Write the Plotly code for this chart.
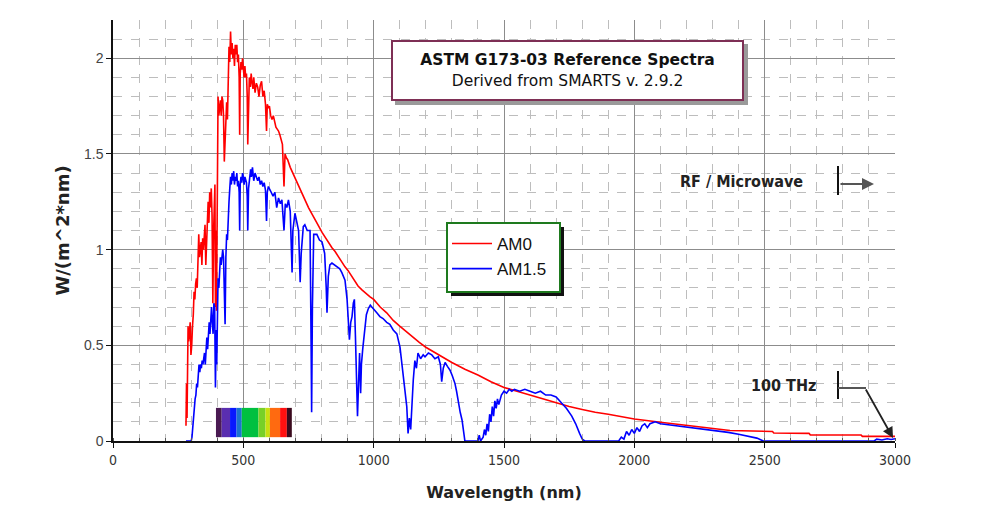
import plotly.graph_objects as go

# ---------------- data ----------------
am0_wl = [280, 282, 284, 286, 288, 290, 293, 296, 299, 302, 305, 308, 311, 314, 317, 320, 323, 326, 329, 332,
          335, 338, 341, 344, 347, 350, 353, 356, 359, 362, 365, 368, 371, 374, 377, 380, 383, 386, 389, 391,
          393, 395, 397, 400, 403, 406, 409, 412, 415, 418, 421, 424, 427, 430, 433, 436, 439, 442, 445, 448,
          451, 454, 457, 460, 463, 466, 469, 472, 475, 478, 481, 484, 486, 488, 491, 494, 497, 500, 503, 506,
          509, 512, 515, 517, 520, 523, 527, 530, 533, 537, 540, 545, 550, 555, 560, 565, 570, 575, 580, 585,
          589, 592, 596, 600, 605, 610, 615, 620, 625, 630, 635, 640, 645, 650, 656, 660, 665, 670, 680, 690,
          700, 712, 725, 737, 750, 762, 775, 790, 802, 815, 825, 840, 852, 866, 878, 890, 902, 915, 925, 940,
          955, 970, 985, 1000, 1025, 1050, 1075, 1100, 1125, 1150, 1175, 1200, 1250, 1300, 1350, 1400, 1450,
          1500, 1550, 1600, 1650, 1700, 1750, 1800, 1850, 1900, 1950, 2000, 2100, 2200, 2300, 2367, 2530, 2535,
          2670, 2675, 2870, 2875, 3000]
am0_val = [0.08, 0.30, 0.12, 0.35, 0.60, 0.52, 0.56, 0.62, 0.45, 0.50, 0.60, 0.66, 0.78, 0.74, 0.82, 0.85, 0.80, 1.02, 1.08, 0.96,
           1.00, 1.04, 0.92, 1.06, 1.00, 1.08, 1.13, 0.92, 1.05, 1.20, 1.25, 1.14, 1.30, 1.22, 1.32, 1.18, 0.72, 1.10, 1.28, 1.34,
           0.70, 1.10, 0.68, 1.45, 1.80, 1.70, 1.75, 1.78, 1.70, 1.80, 1.78, 1.70, 1.46, 1.55, 1.72, 1.77, 1.68, 1.90, 2.06, 1.98,
           2.14, 2.02, 2.08, 2.00, 2.05, 1.96, 2.07, 2.02, 2.07, 1.98, 2.02, 1.90, 1.60, 1.92, 1.98, 1.94, 2.00, 1.95, 1.90, 1.96,
           1.90, 1.92, 1.80, 1.55, 1.82, 1.90, 1.85, 1.92, 1.88, 1.84, 1.90, 1.82, 1.87, 1.85, 1.80, 1.86, 1.88, 1.80, 1.83, 1.76,
           1.62, 1.76, 1.74, 1.75, 1.70, 1.68, 1.70, 1.66, 1.64, 1.63, 1.62, 1.60, 1.58, 1.55, 1.33, 1.50, 1.48, 1.47, 1.43, 1.40,
           1.37, 1.33, 1.30, 1.26, 1.22, 1.19, 1.16, 1.12, 1.09, 1.06, 1.04, 1.01, 0.99, 0.96, 0.93, 0.91, 0.89, 0.86, 0.84, 0.81,
           0.79, 0.77, 0.755, 0.74, 0.70, 0.67, 0.63, 0.60, 0.57, 0.54, 0.515, 0.49, 0.45, 0.41, 0.375, 0.345, 0.31,
           0.28, 0.26, 0.24, 0.22, 0.20, 0.18, 0.165, 0.15, 0.14, 0.127, 0.115, 0.098, 0.083, 0.066, 0.055, 0.050, 0.042,
           0.040, 0.032, 0.031, 0.024, 0.024]

am15_wl = [280, 300, 303, 306, 309, 312, 315, 318, 321, 324, 327, 330, 333, 336, 339, 342, 345, 348, 351, 354,
           357, 360, 363, 366, 369, 372, 375, 378, 381, 384, 387, 390, 393, 396, 398, 400, 403, 406, 409, 412,
           415, 418, 421, 424, 427, 430, 433, 436, 439, 442, 445, 448, 451, 454, 457, 460, 463, 466, 469, 472,
           475, 478, 481, 484, 486, 488, 491, 494, 497, 500, 503, 506, 509, 512, 515, 517, 520, 524, 528, 531,
           535, 540, 545, 550, 555, 560, 565, 570, 575, 580, 585, 589, 592, 596, 600, 607, 614, 621, 628, 635,
           642, 648, 656, 661, 667, 673, 680, 687, 690, 698, 705, 712, 718, 722, 730, 736, 745, 756, 760, 762,
           765, 770, 782, 792, 802, 812, 818, 821, 826, 832, 840, 850, 860, 870, 878, 890, 898, 904, 907, 912,
           917, 922, 926, 930, 935, 938, 942, 946, 950, 953, 958, 963, 967, 972, 979, 987, 993, 1000, 1012, 1024,
           1036, 1050, 1062, 1075, 1089, 1101, 1107, 1113, 1120, 1127, 1132, 1137, 1142, 1147, 1152, 1158, 1164,
           1170, 1180, 1190, 1197, 1210, 1223, 1235, 1248, 1256, 1261, 1267, 1274, 1283, 1293, 1302, 1312, 1318,
           1324, 1332, 1339, 1345, 1350, 1400, 1405, 1410, 1420, 1425, 1430, 1435, 1440, 1445, 1450, 1455, 1460,
           1465, 1470, 1475, 1480, 1490, 1500, 1510, 1520, 1530, 1540, 1560, 1580, 1600, 1620, 1640, 1660, 1680,
           1700, 1720, 1740, 1760, 1775, 1790, 1800, 1810, 1940, 1950, 1960, 1970, 1980, 1990, 2000, 2010, 2020,
           2030, 2040, 2050, 2060, 2080, 2100, 2130, 2160, 2200, 2240, 2280, 2320, 2360, 2400, 2440, 2470, 2495,
           2920, 2930, 2950, 2970, 2985, 3000]
am15_val = [0.0, 0.0, 0.02, 0.08, 0.13, 0.18, 0.22, 0.24, 0.30, 0.28, 0.34, 0.40, 0.36, 0.40, 0.38, 0.42, 0.40, 0.44, 0.46, 0.40,
            0.50, 0.54, 0.48, 0.56, 0.62, 0.56, 0.64, 0.70, 0.62, 0.56, 0.72, 0.70, 0.28, 0.58, 0.40, 0.70, 0.85, 0.80, 0.90, 0.96,
            0.92, 0.99, 1.00, 0.96, 0.80, 0.61, 0.96, 1.08, 1.05, 1.20, 1.25, 1.32, 1.38, 1.34, 1.40, 1.36, 1.41, 1.34, 1.38, 1.36,
            1.40, 1.33, 1.36, 1.30, 1.10, 1.34, 1.38, 1.35, 1.40, 1.38, 1.34, 1.38, 1.36, 1.35, 1.28, 1.10, 1.32, 1.38, 1.42, 1.38,
            1.43, 1.36, 1.40, 1.38, 1.36, 1.38, 1.34, 1.36, 1.33, 1.35, 1.31, 1.15, 1.30, 1.33, 1.32, 1.30, 1.28, 1.30, 1.22, 1.27,
            1.24, 1.26, 1.10, 1.24, 1.22, 1.26, 1.20, 0.88, 1.10, 1.19, 1.14, 1.10, 0.83, 0.98, 1.12, 1.13, 1.10, 1.10, 0.50, 0.15,
            0.70, 1.08, 1.08, 1.05, 1.04, 0.98, 0.80, 0.67, 0.86, 0.92, 0.93, 0.92, 0.91, 0.90, 0.88, 0.84, 0.74, 0.60, 0.53, 0.62,
            0.65, 0.72, 0.74, 0.55, 0.28, 0.13, 0.30, 0.46, 0.25, 0.40, 0.48, 0.56, 0.60, 0.66, 0.69, 0.71, 0.70, 0.69, 0.67, 0.65,
            0.64, 0.62, 0.61, 0.58, 0.56, 0.49, 0.42, 0.35, 0.25, 0.18, 0.04, 0.12, 0.06, 0.21, 0.32, 0.42, 0.38,
            0.46, 0.43, 0.45, 0.44, 0.46, 0.45, 0.43, 0.44, 0.40, 0.31, 0.38, 0.41, 0.39, 0.37, 0.34, 0.30, 0.26,
            0.21, 0.15, 0.11, 0.05, 0.0, 0.0, 0.03, 0.0, 0.02, 0.06, 0.03, 0.09, 0.05, 0.14, 0.10, 0.18, 0.13,
            0.21, 0.17, 0.22, 0.19, 0.24, 0.26, 0.25, 0.27, 0.26, 0.27, 0.26, 0.27, 0.26, 0.25, 0.26, 0.24, 0.24,
            0.23, 0.20, 0.17, 0.13, 0.09, 0.04, 0.01, 0.0, 0.0, 0.02, 0.01, 0.05, 0.03, 0.06, 0.04, 0.07, 0.05,
            0.08, 0.09, 0.07, 0.09, 0.10, 0.09, 0.085, 0.08, 0.075, 0.068, 0.06, 0.052, 0.045, 0.035, 0.025, 0.015, 0.0,
            0.0, 0.01, 0.005, 0.012, 0.008, 0.012]

series_names = ["AM0", "AM1.5"]
series_colors = ["#ff0000", "#0000ff"]

x_tick_vals = [0, 500, 1000, 1500, 2000, 2500, 3000]
x_tick_text = ["0", "500", "1000", "1500", "2000", "2500", "3000"]
y_tick_vals = [0, 0.5, 1, 1.5, 2]
y_tick_text = ["0", "0.5", "1", "1.5", "2"]

# visible-spectrum strip (wavelength band edges and colours)
spectrum_edges = [395, 417, 449, 474, 494, 558, 585, 602, 641, 667, 686]
spectrum_colors = ["#4a1a52", "#5a2eb0", "#0818ff", "#1a74d0", "#00c040", "#78d028",
                   "#c8e010", "#ff6a10", "#ff1010", "#3a0a1e"]

# ---------------- figure ----------------
# the page has an 8px body margin, so the figure is placed 8px in from the window corner
OFF = 8
W, H = 993 - OFF, 515 - OFF
L, R, T, B = 113, 895, 20, 441   # plot area in window pixels


def px(xp):
    return (xp - L) / (R - L)


def py(yp):
    return (B - yp) / (B - T)


fig = go.Figure()
fig.add_trace(go.Scatter(x=am0_wl, y=am0_val, mode="lines", name=series_names[0],
                         legendgroup="a", line=dict(color=series_colors[0], width=1.6)))
fig.add_trace(go.Scatter(x=am15_wl, y=am15_val, mode="lines", name=series_names[1],
                         legendgroup="b", line=dict(color=series_colors[1], width=1.6)))

shapes = []
for i, c in enumerate(spectrum_colors):
    shapes.append(dict(type="rect", xref="x", yref="y", x0=spectrum_edges[i], x1=spectrum_edges[i + 1],
                       y0=0.02, y1=0.173, fillcolor=c, line=dict(width=0), layer="above"))

# title box shadow
shapes.append(dict(type="rect", xref="paper", yref="paper", x0=px(395), x1=px(748), y0=py(105), y1=py(44),
                    fillcolor="#9a9a9a", line=dict(width=0), layer="above"))
# legend box: shadow + frame
shapes.append(dict(type="rect", xref="paper", yref="paper", x0=px(451), x1=px(564), y0=py(296), y1=py(227),
                    fillcolor="#111111", line=dict(width=0), layer="above"))
shapes.append(dict(type="rect", xref="paper", yref="paper", x0=px(447), x1=px(560), y0=py(292), y1=py(223),
                    fillcolor="white", line=dict(color="#1e7a1e", width=2), layer="above"))
# RF / Microwave marker line
shapes.append(dict(type="line", xref="paper", yref="paper", x0=px(838), x1=px(838), y0=py(166), y1=py(195),
                    line=dict(color="#111111", width=2), layer="above"))
# 100 THz marker
shapes.append(dict(type="line", xref="paper", yref="paper", x0=px(838), x1=px(838), y0=py(371), y1=py(399),
                    line=dict(color="#111111", width=2), layer="above"))
shapes.append(dict(type="line", xref="paper", yref="paper", x0=px(838), x1=px(866), y0=py(388), y1=py(388),
                    line=dict(color="#555555", width=2), layer="above"))

label_font = dict(family="DejaVu Sans Condensed, DejaVu Sans", size=16, color="#222222")

annotations = [
    dict(xref="paper", yref="paper", x=px(567.5), y=py(70.5), xanchor="center", yanchor="middle",
         text="<b>ASTM G173-03 Reference Spectra</b><br>Derived from SMARTS v. 2.9.2",
         font=dict(family="DejaVu Sans", size=15.5, color="#111111"),
         showarrow=False, bgcolor="white", bordercolor="#7e2f55", borderwidth=2,
         borderpad=5, width=339, height=47, align="center"),
    dict(xref="paper", yref="paper", x=px(805), y=py(181), xanchor="right", yanchor="middle",
         text="<b>RF / Microwave</b>", showarrow=False, font=label_font),
    dict(xref="paper", yref="paper", x=px(874), y=py(184), ax=-35, ay=0,
         axref="pixel", ayref="pixel", text="", showarrow=True, arrowhead=2, arrowsize=1.2,
         arrowwidth=2, arrowcolor="#555555"),
    dict(xref="paper", yref="paper", x=px(818), y=py(385), xanchor="right", yanchor="middle",
         text="<b>100 THz</b>", showarrow=False, font=label_font),
    dict(xref="paper", yref="paper", x=px(893), y=py(438), ax=-28, ay=-50,
         axref="pixel", ayref="pixel", text="", showarrow=True, arrowhead=2, arrowsize=1.2,
         arrowwidth=1.8, arrowcolor="#222222"),
]

tick_font = dict(family="DejaVu Sans Condensed, DejaVu Sans", size=14, color="#333333")

fig.update_layout(
    width=W, height=H,
    margin=dict(l=L - OFF, r=(W + OFF) - R, t=T - OFF, b=(H + OFF) - B),
    paper_bgcolor="white", plot_bgcolor="white",
    showlegend=True,
    legend=dict(x=px(447), y=py(226), xanchor="left", yanchor="top",
                bgcolor="rgba(0,0,0,0)", borderwidth=0,
                font=dict(family="Liberation Sans, Arial", size=17, color="#111111"),
                tracegroupgap=11, traceorder="normal", itemwidth=40),
    shapes=shapes,
    annotations=annotations,
    xaxis=dict(range=[0, 3000], tickmode="array", tickvals=x_tick_vals, ticktext=x_tick_text,
               showgrid=True, gridcolor="#8c8c8c", gridwidth=1,
               showline=True, linecolor="#111111", linewidth=1.5,
               ticks="outside", ticklen=5, tickcolor="#111111", tickfont=tick_font,
               zeroline=False,
               minor=dict(dtick=100, showgrid=True, gridcolor="#bdbdbd", griddash="dash",
                          ticks="inside", ticklen=3, tickcolor="#555555"),
               title=dict(text="<b>Wavelength (nm)</b>",
                          font=dict(family="DejaVu Sans", size=16, color="#222222"), standoff=20)),
    yaxis=dict(range=[0, 2.2], tickmode="array", tickvals=y_tick_vals, ticktext=y_tick_text,
               showgrid=True, gridcolor="#8c8c8c", gridwidth=1,
               showline=True, linecolor="#111111", linewidth=1.5,
               ticks="outside", ticklen=5, tickcolor="#111111",
               tickfont=dict(family="Liberation Sans, Arial", size=14, color="#444444"),
               zeroline=False,
               minor=dict(dtick=0.1, showgrid=True, gridcolor="#bdbdbd", griddash="dash"),
               title=dict(text="<b>W/(m^2*nm)</b>",
                          font=dict(family="DejaVu Sans", size=18, color="#222222"), standoff=10)),
)

fig.write_html("out.html")
